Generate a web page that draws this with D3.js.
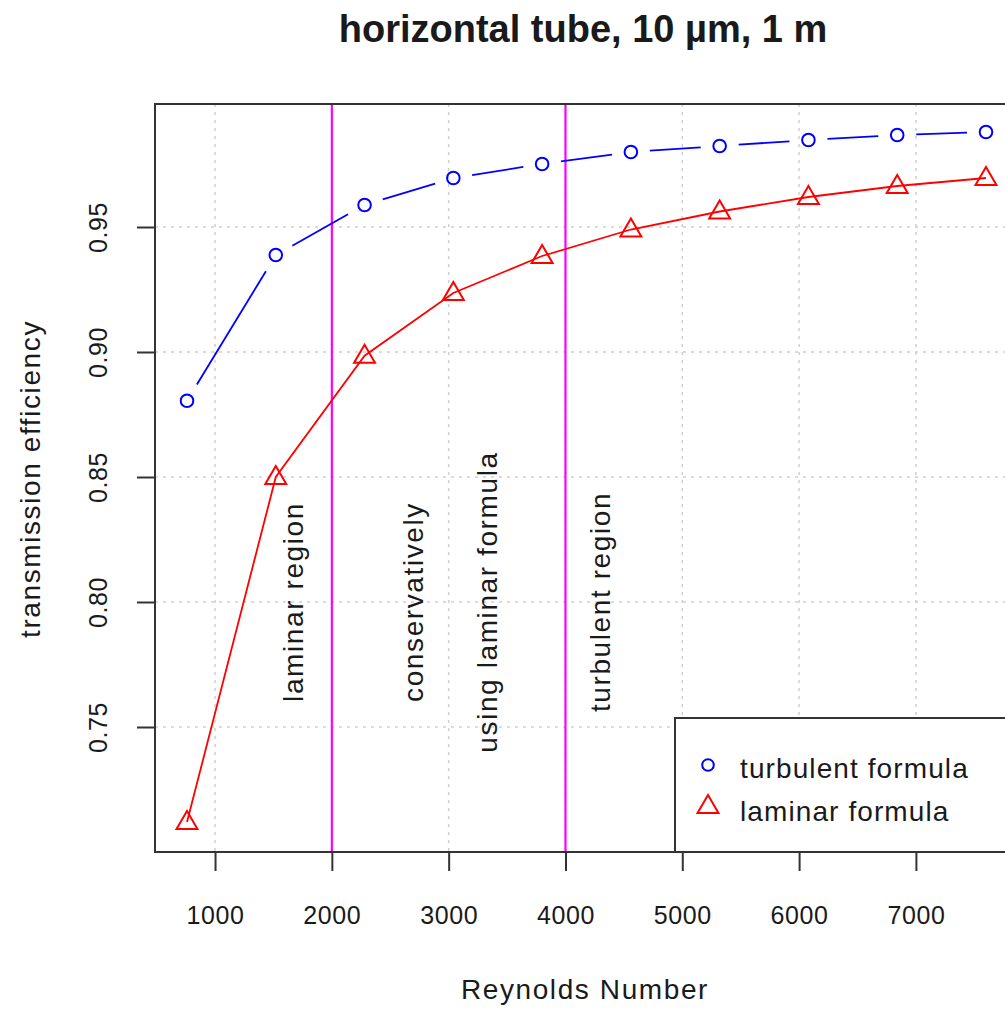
<!DOCTYPE html>
<html>
<head>
<meta charset="utf-8">
<script src="https://cdn.jsdelivr.net/npm/d3@7"></script>
<style>
  body { margin: 0; background: #fff; }
  text { font-family: "Liberation Sans", Arial, sans-serif; fill: #1a1a1a; }
</style>
</head>
<body>
<div id="chart"></div>
<script>
// data
const reynolds = [760, 1520, 2280, 3040, 3800, 4560, 5320, 6080, 6840, 7600];
const turbulent = [0.8805, 0.9388, 0.9588, 0.9696, 0.9752, 0.9800, 0.9824, 0.9848, 0.9868, 0.9880];
const laminar = [0.7120, 0.8500, 0.8985, 0.9236, 0.9384, 0.9490, 0.9562, 0.9620, 0.9664, 0.9696];
const xTicks = [1000, 2000, 3000, 4000, 5000, 6000, 7000];
const yTicks = [0.75, 0.80, 0.85, 0.90, 0.95];
const regionLines = [2000, 4000];
const notes = [
    { x: 1750, text: 'laminar region' },
    { x: 2780, text: 'conservatively' },
    { x: 3410, text: 'using laminar formula' },
    { x: 4380, text: 'turbulent region' }
];
const legendItems = ['turbulent formula', 'laminar formula'];

const W = 1005, H = 1009;
const plot = { left: 155, top: 104, right: 1018, bottom: 852 };
const wordFont = { size: '28px', spacing: '1.6px' };

const svg = d3.select('#chart')
    .append('svg')
    .attr('width', W)
    .attr('height', H);

const x = d3.scaleLinear()
    .domain([486, 7874])
    .range([plot.left, plot.right]);

const y = d3.scaleLinear()
    .domain([0.70, 0.9992])
    .range([plot.bottom, plot.top]);

// grid
const grid = svg.append('g')
    .attr('stroke', '#cfcfcf')
    .attr('stroke-width', 1.5)
    .attr('stroke-dasharray', '3,5');
grid.selectAll('.gx').data(xTicks).enter().append('line')
    .attr('x1', d => x(d)).attr('x2', d => x(d))
    .attr('y1', plot.top).attr('y2', plot.bottom);
grid.selectAll('.gy').data(yTicks).enter().append('line')
    .attr('x1', plot.left).attr('x2', plot.right)
    .attr('y1', d => y(d)).attr('y2', d => y(d));

// magenta region lines
svg.selectAll('.region').data(regionLines).enter().append('line')
    .attr('x1', d => x(d)).attr('x2', d => x(d))
    .attr('y1', plot.top).attr('y2', plot.bottom)
    .attr('stroke', '#ff00ff')
    .attr('stroke-width', 2.2);

// axes
const xAxis = svg.append('g')
    .attr('transform', `translate(0,${plot.bottom})`)
    .call(d3.axisBottom(x).tickValues(xTicks).tickSize(19).tickFormat(d3.format('d')));
const yAxis = svg.append('g')
    .attr('transform', `translate(${plot.left},0)`)
    .call(d3.axisLeft(y).tickValues(yTicks).tickSize(18).tickFormat(d3.format('.2f')));
[xAxis, yAxis].forEach(a => {
    a.select('.domain').remove();
    a.selectAll('line').attr('stroke', '#333').attr('stroke-width', 2);
    a.selectAll('text')
        .style('font-size', '25px')
        .style('letter-spacing', '0.6px')
        .attr('fill', '#1a1a1a');
});
xAxis.selectAll('text').attr('y', 54).attr('dy', '0.71em');
yAxis.selectAll('text')
    .attr('dy', null)
    .attr('text-anchor', 'middle')
    .attr('transform', 'rotate(-90)')
    .attr('x', 0)
    .attr('y', -48);

// box
svg.append('rect')
    .attr('x', plot.left).attr('y', plot.top)
    .attr('width', plot.right - plot.left).attr('height', plot.bottom - plot.top)
    .attr('fill', 'none').attr('stroke', '#333').attr('stroke-width', 2);

// annotations (x is where the text baseline sits)
svg.selectAll('.note').data(notes).enter().append('text')
    .attr('transform', d => `translate(${x(d.x)},${y(0.80)}) rotate(-90)`)
    .attr('text-anchor', 'middle')
    .style('font-size', wordFont.size)
    .style('letter-spacing', wordFont.spacing)
    .text(d => d.text);

// laminar series: lines through the points
const pts = (vals) => reynolds.map((r, i) => [x(r), y(vals[i])]);
svg.append('path')
    .datum(pts(laminar))
    .attr('fill', 'none')
    .attr('stroke', '#ff0000')
    .attr('stroke-width', 1.8)
    .attr('d', d3.line());

const tri = d3.symbol().type(d3.symbolTriangle).size(190);
svg.selectAll('.tri').data(pts(laminar)).enter().append('path')
    .attr('transform', d => `translate(${d[0]},${d[1] + 1})`)
    .attr('d', tri)
    .attr('fill', 'none')
    .attr('stroke', '#ff0000')
    .attr('stroke-width', 2);

// turbulent series: lines with gaps round the points
const tp = pts(turbulent);
const gap = 19;
const segs = d3.pairs(tp).map(([a, b]) => {
    const dx = b[0] - a[0], dy = b[1] - a[1];
    const len = Math.hypot(dx, dy);
    const ux = dx / len, uy = dy / len;
    return [[a[0] + ux * gap, a[1] + uy * gap], [b[0] - ux * gap, b[1] - uy * gap]];
});
svg.selectAll('.seg').data(segs).enter().append('line')
    .attr('x1', d => d[0][0]).attr('y1', d => d[0][1])
    .attr('x2', d => d[1][0]).attr('y2', d => d[1][1])
    .attr('stroke', '#0000ff')
    .attr('stroke-width', 1.8);
svg.selectAll('.circ').data(tp).enter().append('circle')
    .attr('cx', d => d[0]).attr('cy', d => d[1])
    .attr('r', 6.3)
    .attr('fill', 'none')
    .attr('stroke', '#0000ff')
    .attr('stroke-width', 2);

// legend
const lg = svg.append('g').attr('transform', 'translate(675,718)');
lg.append('rect')
    .attr('width', 360).attr('height', plot.bottom - 718)
    .attr('fill', '#fff').attr('stroke', '#333').attr('stroke-width', 2);
lg.append('circle')
    .attr('cx', 33).attr('cy', 47).attr('r', 5.8)
    .attr('fill', 'none').attr('stroke', '#0000ff').attr('stroke-width', 2);
lg.append('path')
    .attr('transform', 'translate(33,89)')
    .attr('d', tri)
    .attr('fill', 'none').attr('stroke', '#ff0000').attr('stroke-width', 2);
lg.selectAll('.lt').data(legendItems).enter().append('text')
    .attr('x', 65)
    .attr('y', (d, i) => 60 + i * 43)
    .style('font-size', wordFont.size)
    .style('letter-spacing', '1.1px')
    .text(d => d);

// titles
svg.append('text')
    .attr('x', 583).attr('y', 42)
    .attr('text-anchor', 'middle')
    .style('font-size', '38px')
    .style('font-weight', 'bold')
    .attr('fill', '#000')
    .text('horizontal tube, 10 µm, 1 m');
svg.append('text')
    .attr('x', 585).attr('y', 999)
    .attr('text-anchor', 'middle')
    .style('font-size', wordFont.size)
    .style('letter-spacing', wordFont.spacing)
    .text('Reynolds Number');
svg.append('text')
    .attr('transform', `translate(40,${(plot.top + plot.bottom) / 2 + 1}) rotate(-90)`)
    .attr('text-anchor', 'middle')
    .style('font-size', wordFont.size)
    .style('letter-spacing', wordFont.spacing)
    .text('transmission efficiency');
</script>
</body>
</html>
